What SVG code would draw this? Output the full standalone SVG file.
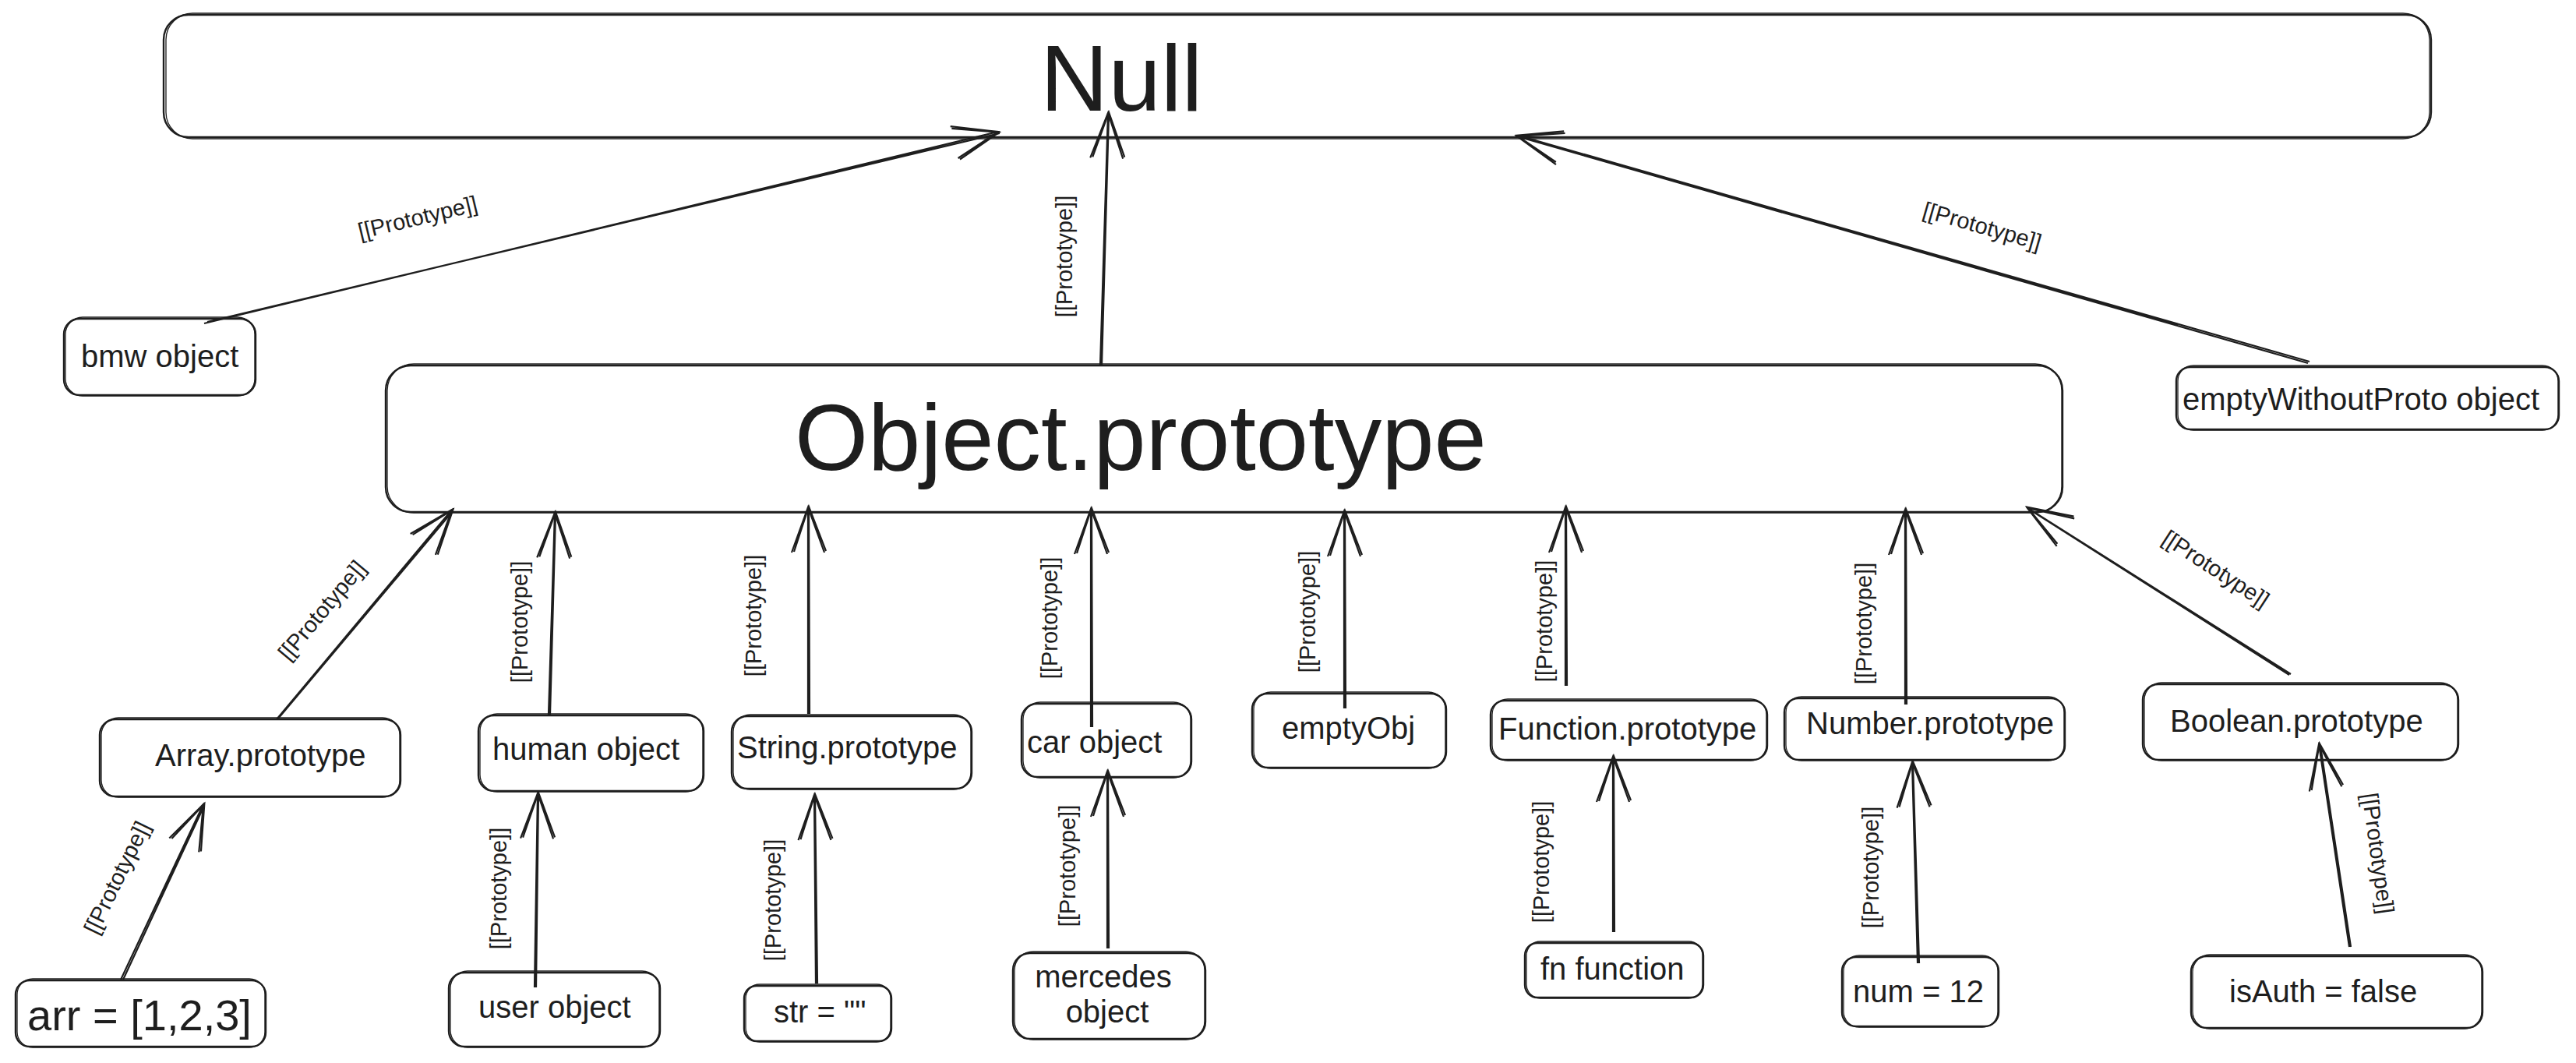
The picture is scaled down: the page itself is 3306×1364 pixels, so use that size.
<svg xmlns="http://www.w3.org/2000/svg" width="3306" height="1364" viewBox="0 0 3306 1364">
<style>
.b{fill:none;stroke:#1e1e1e;stroke-width:2.4}
.b2{fill:none;stroke:#1e1e1e;stroke-width:1.3}
.t{font-family:"Liberation Sans",Arial,Helvetica,sans-serif;fill:#1e1e1e;font-size:40px}
.big{font-size:121px}
.lb{font-family:"Liberation Sans",Arial,Helvetica,sans-serif;fill:#1e1e1e;font-size:29px;text-anchor:middle;dominant-baseline:central}
.c{fill:none;stroke:#1e1e1e;stroke-width:2.2;marker-end:url(#ah)}
</style>
<defs>
<marker id="ah" markerUnits="userSpaceOnUse" markerWidth="160" markerHeight="160" viewBox="-80 -80 160 160" refX="0" refY="0" orient="auto" overflow="visible">
<path d="M -58 -21 L 0 0 L -58 21 M -57 -18 L 1 1 L -56 23" fill="none" stroke="#1e1e1e" stroke-width="2.2"/>
</marker>
</defs>
<rect x="0" y="0" width="3306" height="1364" fill="#ffffff"/>

<g id="connectors">
<path class="c" d="M 266 413 L 1283 171 M 262 415 L 1281 169"/>
<path class="c" d="M 1414 469 L 1423 147 M 1412 469 L 1422 145"/>
<path class="c" d="M 2964 464 L 1949 174 M 2962 466 L 1947 175"/>
<path class="c" d="M 357 922 L 581 656 M 355 923 L 580 654"/>
<path class="c" d="M 706 917 L 713 660 M 704 917 L 712 658"/>
<path class="c" d="M 1039 916 L 1038 653 M 1037 916 L 1037 651"/>
<path class="c" d="M 1402 933 L 1401 655 M 1400 933 L 1400 653"/>
<path class="c" d="M 1727 909 L 1726 658 M 1725 909 L 1725 656"/>
<path class="c" d="M 2011 880 L 2010 653 M 2009 880 L 2009 651"/>
<path class="c" d="M 2447 904 L 2446 656 M 2445 904 L 2445 654"/>
<path class="c" d="M 2940 865 L 2604 653 M 2938 866 L 2602 652"/>
<path class="c" d="M 158 1257 L 262 1034 M 155 1257 L 261 1032"/>
<path class="c" d="M 688 1267 L 691 1020 M 686 1267 L 690 1018"/>
<path class="c" d="M 1049 1262 L 1046 1022 M 1047 1262 L 1045 1020"/>
<path class="c" d="M 1423 1217 L 1422 992 M 1421 1217 L 1421 990"/>
<path class="c" d="M 2072 1196 L 2071 973 M 2070 1196 L 2070 971"/>
<path class="c" d="M 2463 1236 L 2455 980 M 2461 1236 L 2454 978"/>
<path class="c" d="M 3017 1215 L 2978 957 M 3015 1215 L 2976 955"/>

<text class="lb" transform="translate(536 279) rotate(-13.5)">[[Prototype]]</text>
<text class="lb" transform="translate(1366 329) rotate(-90)">[[Prototype]]</text>
<text class="lb" transform="translate(2544 290) rotate(16)">[[Prototype]]</text>
<text class="lb" transform="translate(413 783) rotate(-50)">[[Prototype]]</text>
<text class="lb" transform="translate(667 798) rotate(-90)">[[Prototype]]</text>
<text class="lb" transform="translate(967 790) rotate(-90)">[[Prototype]]</text>
<text class="lb" transform="translate(1347 793) rotate(-90)">[[Prototype]]</text>
<text class="lb" transform="translate(1678 785) rotate(-90)">[[Prototype]]</text>
<text class="lb" transform="translate(1982 797) rotate(-90)">[[Prototype]]</text>
<text class="lb" transform="translate(2392 800) rotate(-90)">[[Prototype]]</text>
<text class="lb" transform="translate(2844 730) rotate(33)">[[Prototype]]</text>
<text class="lb" transform="translate(150 1126) rotate(-64)">[[Prototype]]</text>
<text class="lb" transform="translate(640 1140) rotate(-90)">[[Prototype]]</text>
<text class="lb" transform="translate(992 1155) rotate(-90)">[[Prototype]]</text>
<text class="lb" transform="translate(1370 1111) rotate(-90)">[[Prototype]]</text>
<text class="lb" transform="translate(1978 1106) rotate(-90)">[[Prototype]]</text>
<text class="lb" transform="translate(2401 1113) rotate(-90)">[[Prototype]]</text>
<text class="lb" transform="translate(3052 1095) rotate(82)">[[Prototype]]</text>
</g>

<g id="null">
<rect class="b" x="210" y="19" width="2910" height="157" rx="32"/>
<rect class="b2" x="213" y="17" width="2905" height="161" rx="34"/>
<text class="t big" x="1335" y="142">Null</text>
</g>

<g id="object-prototype">
<rect class="b" x="495" y="469" width="2152" height="188" rx="32"/>
<rect class="b2" x="497" y="467" width="2149" height="191" rx="34"/>
<text class="t big" x="1020" y="603">Object.prototype</text>
</g>

<g id="bmw">
<rect class="b" x="82" y="409" width="246" height="98" rx="20"/>
<rect class="b2" x="84" y="407" width="243" height="101" rx="22"/>
<text class="t" x="104" y="471">bmw object</text>
</g>

<g id="empty-without-proto">
<rect class="b" x="2793" y="471" width="491" height="80" rx="18"/>
<rect class="b2" x="2795" y="469" width="488" height="83" rx="20"/>
<text class="t" x="2801" y="526">emptyWithoutProto object</text>
</g>

<g id="array-prototype">
<rect class="b" x="128" y="923" width="386" height="99" rx="20"/>
<rect class="b2" x="130" y="921" width="383" height="102" rx="22"/>
<text class="t" x="199" y="983">Array.prototype</text>
</g>

<g id="human">
<rect class="b" x="614" y="918" width="289" height="97" rx="20"/>
<rect class="b2" x="616" y="916" width="286" height="100" rx="22"/>
<text class="t" x="632" y="975">human object</text>
</g>

<g id="string-prototype">
<rect class="b" x="939" y="919" width="308" height="93" rx="20"/>
<rect class="b2" x="941" y="917" width="305" height="96" rx="22"/>
<text class="t" x="946" y="973">String.prototype</text>
</g>

<g id="car">
<rect class="b" x="1311" y="903" width="218" height="94" rx="20"/>
<rect class="b2" x="1313" y="901" width="215" height="97" rx="22"/>
<text class="t" x="1318" y="966">car object</text>
</g>

<g id="empty-obj">
<rect class="b" x="1607" y="890" width="249" height="95" rx="20"/>
<rect class="b2" x="1609" y="888" width="246" height="98" rx="22"/>
<text class="t" x="1645" y="948">emptyObj</text>
</g>

<g id="function-prototype">
<rect class="b" x="1913" y="899" width="355" height="76" rx="18"/>
<rect class="b2" x="1915" y="897" width="352" height="79" rx="20"/>
<text class="t" x="1923" y="949">Function.prototype</text>
</g>

<g id="number-prototype">
<rect class="b" x="2290" y="896" width="360" height="79" rx="18"/>
<rect class="b2" x="2292" y="894" width="357" height="82" rx="20"/>
<text class="t" x="2318" y="942">Number.prototype</text>
</g>

<g id="boolean-prototype">
<rect class="b" x="2750" y="878" width="405" height="97" rx="20"/>
<rect class="b2" x="2752" y="876" width="402" height="100" rx="22"/>
<text class="t" x="2785" y="939">Boolean.prototype</text>
</g>

<g id="arr">
<rect class="b" x="20" y="1258" width="321" height="85" rx="18"/>
<rect class="b2" x="22" y="1256" width="318" height="88" rx="20"/>
<text class="t" style="font-size:56px" x="35" y="1322">arr = [1,2,3]</text>
</g>

<g id="user">
<rect class="b" x="576" y="1248" width="271" height="95" rx="20"/>
<rect class="b2" x="578" y="1246" width="268" height="98" rx="22"/>
<text class="t" x="614" y="1306">user object</text>
</g>

<g id="str">
<rect class="b" x="955" y="1265" width="189" height="71" rx="16"/>
<rect class="b2" x="957" y="1263" width="186" height="74" rx="18"/>
<text class="t" x="993" y="1312">str = ""</text>
</g>

<g id="mercedes">
<rect class="b" x="1300" y="1223" width="247" height="110" rx="22"/>
<rect class="b2" x="1302" y="1221" width="244" height="113" rx="24"/>
<text class="t" x="1416" y="1267" text-anchor="middle">mercedes</text>
<text class="t" x="1421" y="1312" text-anchor="middle">object</text>
</g>

<g id="fn">
<rect class="b" x="1957" y="1210" width="229" height="70" rx="16"/>
<rect class="b2" x="1959" y="1208" width="226" height="73" rx="18"/>
<text class="t" x="1977" y="1257">fn function</text>
</g>

<g id="num">
<rect class="b" x="2364" y="1228" width="201" height="89" rx="18"/>
<rect class="b2" x="2366" y="1226" width="198" height="92" rx="20"/>
<text class="t" x="2378" y="1286">num = 12</text>
</g>

<g id="isauth">
<rect class="b" x="2812" y="1227" width="374" height="92" rx="20"/>
<rect class="b2" x="2814" y="1225" width="371" height="95" rx="22"/>
<text class="t" x="2861" y="1286">isAuth = false</text>
</g>
</svg>
